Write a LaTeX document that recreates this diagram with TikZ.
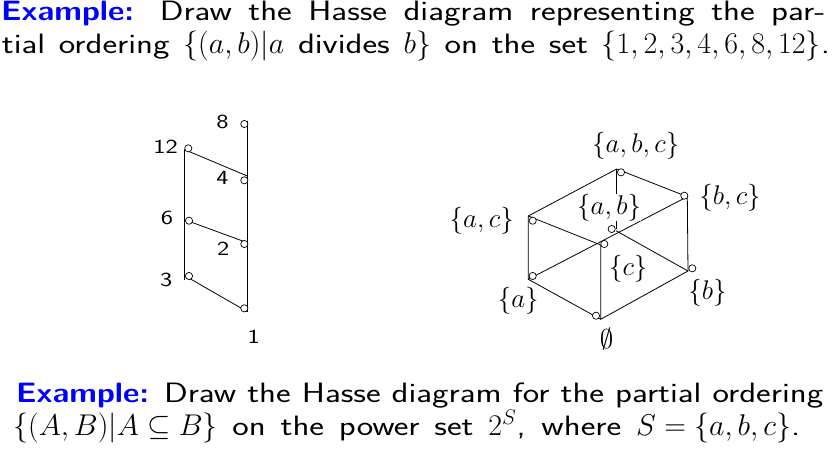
\RequirePackage{fix-cm}
\documentclass[tikz,border=0pt]{standalone}
\usepackage{amssymb}
\usepackage{fontspec}
\newfontfamily\bodyfont[FakeStretch=1.25,Scale=0.933]{Latin Modern Sans}
\newfontfamily\exfont[FakeStretch=1.14,Scale=0.933]{Latin Modern Sans}
\newfontfamily\numfont[FakeStretch=1.3]{Latin Modern Sans}
\newcommand\fixmu{\thickmuskip=5mu\medmuskip=4mu\thinmuskip=3mu}
\begin{document}
\begin{tikzpicture}[x=1pt,y=-1pt,
  txt/.style={anchor=base west,inner sep=0pt,font=\fontsize{30}{34}\selectfont\bodyfont\fixmu},
  num/.style={inner sep=0pt,font=\fontsize{20}{24}\selectfont\numfont},
  setlbl/.style={inner sep=0pt,font=\fontsize{27}{30}\selectfont},
  vtx/.style={circle,draw,line width=0.7pt,minimum size=7.2pt,inner sep=0pt,fill=white},
  edge/.style={line width=0.8pt}]
\useasboundingbox (0,0) rectangle (839,452);
% ---- text ----
\node[txt] (t1) at (1,21) {\hbox to 824pt{{\exfont\bfseries\color{blue}Example:} Draw the Hasse diagram representing the par-}};
\node[txt] (t2) at (1.7,54) {\hbox to 828pt{tial ordering $\{(a,b)|a$ divides $b\}$ on the set $\{1,2,3,4,6,8,12\}$.}};
\node[txt] (t3) at (16,402) {\hbox to 807pt{{\exfont\bfseries\color{blue}Example:} Draw the Hasse diagram for the partial ordering}};
\node[txt] (t4) at (13,435) {\hbox to 787pt{$\{(A,B)|A\subseteq B\}$ on the power set $2^S$, where $S=\{a,b,c\}$.}};
% ---- left diagram ----
\coordinate (r8) at (247.3,120.7);
\coordinate (r4) at (247.3,176);
\coordinate (r2) at (247.3,242.7);
\coordinate (r1) at (247.3,311.7);
\coordinate (l12) at (184.3,149.5);
\coordinate (l6) at (184.3,219.6);
\coordinate (l3) at (184.3,275.4);
\coordinate (lb) at (184.3,280);
\draw[edge] (r8) -- (r1);
\draw[edge] (l12) -- (lb);
\draw[edge] (l12) -- (r4);
\draw[edge] (l6) -- (r2);
\draw[edge] (l3) -- (r1) ;
\node[vtx] (v8) at (244.3,124) {};
\node[vtx] (v12) at (188.3,148.3) {};
\node[vtx] (v4) at (244.3,180.3) {};
\node[vtx] (v6) at (189,220.7) {};
\node[vtx] (v2) at (244.3,244) {};
\node[vtx] (v3) at (189,276) {};
\node[vtx] (v1) at (244.3,308.3) {};
\node[num] (n8) at (222.5,121.5) {8};
\node[num] (n12) at (165.5,146.5) {12};
\node[num] (n4) at (222.5,178) {4};
\node[num] (n6) at (167,217.8) {6};
\node[num] (n2) at (223.3,249) {2};
\node[num] (n3) at (166.3,280) {3};
\node[num] (n1) at (253.8,336.7) {1};
% ---- right diagram ----
\coordinate (cabc) at (616.7,169);
\coordinate (cbc) at (687.3,196.7);
\coordinate (cac) at (528.3,216);
\coordinate (cab) at (616.7,229);
\coordinate (cab2) at (616,230.7);
\coordinate (cc) at (600.7,245);
\coordinate (ca) at (528.3,279.3);
\coordinate (cb) at (688,271);
\coordinate (ce) at (600.7,319.3);
\draw[edge] (cac) -- (cabc) -- (cbc) -- (cb) -- (ce) -- (ca) -- (cac) -- (cc) -- (ce);
\draw[edge] (cabc) -- (cab);
\draw[edge] (ca) -- (cbc);
\draw[edge] (cab2) -- (cb);
\node[setlbl,fill=white] (Lab) at (609.2,207.5) {$\{a,b\}$};
\node[vtx] (Vabc) at (621,172.3) {};
\node[vtx] (Vbc) at (684.3,195.7) {};
\node[vtx] (Vac) at (532.7,220.7) {};
\node[vtx] (Vab) at (611.7,229) {};
\node[vtx] (Vc) at (604.3,244) {};
\node[vtx] (Va) at (532.7,276) {};
\node[vtx] (Vb) at (692.3,268.3) {};
\node[vtx] (Ve) at (596,315.7) {};
\node[setlbl] (Labc) at (635.8,145.8) {$\{a,b,c\}$};
\node[setlbl] (Lbc) at (730,197.5) {$\{b,c\}$};
\node[setlbl] (Lac) at (481.7,220.8) {$\{a,c\}$};
\node[setlbl] (Lc) at (628.3,268.3) {$\{c\}$};
\node[setlbl] (La) at (518.3,300.8) {$\{a\}$};
\node[setlbl] (Lb) at (707.5,292.5) {$\{b\}$};
\node[setlbl] (Le) at (606.7,339) {$\emptyset$};
\end{tikzpicture}
\end{document}
